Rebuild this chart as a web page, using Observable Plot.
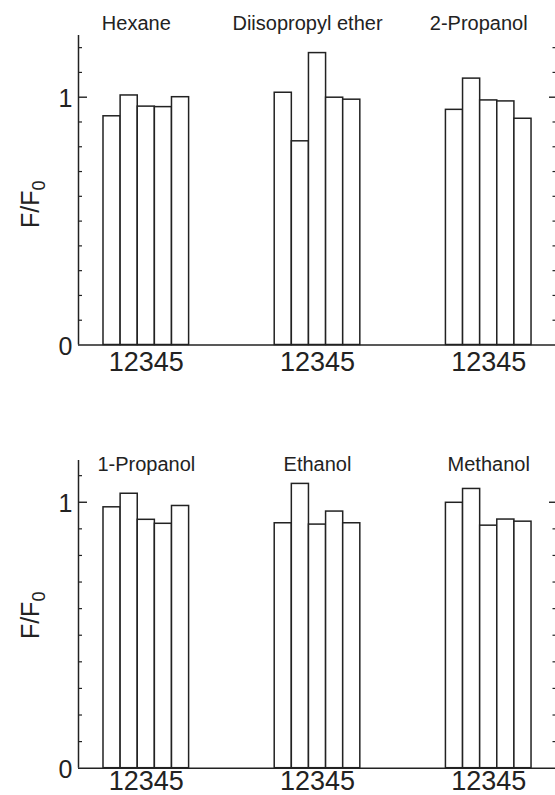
<!DOCTYPE html>
<html><head><meta charset="utf-8">
<script src="https://cdn.jsdelivr.net/npm/d3@7"></script>
<script src="https://cdn.jsdelivr.net/npm/@observablehq/plot@0.6"></script>
<style>body{margin:0;background:#fff} svg{display:block}</style>
</head><body><div id="chart"></div>
<script>
// ---- data ----
const barLabels = ["1", "2", "3", "4", "5"];
const topSolvents = ["Hexane", "Diisopropyl ether", "2-Propanol"];
const hexane = [0.923, 1.007, 0.962, 0.960, 1.000];
const diisopropylEther = [1.018, 0.822, 1.178, 0.998, 0.990];
const propanol2 = [0.949, 1.075, 0.987, 0.983, 0.913];
const bottomSolvents = ["1-Propanol", "Ethanol", "Methanol"];
const propanol1 = [0.981, 1.032, 0.934, 0.919, 0.986];
const ethanol = [0.921, 1.069, 0.916, 0.965, 0.921];
const methanol = [0.998, 1.050, 0.912, 0.935, 0.927];
const yTickValues = [0, 1];
const yMinorTop = [0.1, 0.2, 0.3, 0.4, 0.5, 0.6, 0.7, 0.8, 0.9, 1.1, 1.2];
const yMinorBottom = [0.1, 0.2, 0.3, 0.4, 0.5, 0.6, 0.7, 0.8, 0.9, 1.1];
const yRightTop = [0.1, 0.2, 0.3, 0.4, 0.5, 0.6, 0.7, 0.8, 0.9, 1.1, 1.2];
const yRightBottom = [0.1, 0.2, 0.3, 0.4, 0.5, 0.6, 0.7, 0.8, 0.9];
const yLabel = "F/F0";

const ink = "#222";

function panel({solvents, values, height, marginTop, marginBottom, yMax, minor, right, titleDx, titleDy, labelDy, yLabelDy}) {
  const rows = solvents.flatMap((s, g) => values[g].map((v, i) => ({solvent: s, group: g, bar: i, value: v})));
  const width = 555, marginLeft = 78, marginRight = 0;
  const frameW = width - marginLeft - marginRight;
  const groupStep = 10;
  const xDomain = [-1.46, 26.4];
  const svg = Plot.plot({
    width, height, marginLeft, marginRight, marginTop, marginBottom,
    x: {domain: xDomain, axis: null},
    y: {domain: [0, yMax], axis: null},
    style: {fontFamily: "'Liberation Sans', Arial, sans-serif", color: ink, background: "#fff", overflow: "visible"},
    marks: [
      Plot.rectY(rows, {
        x1: d => d.group * groupStep + d.bar,
        x2: d => d.group * groupStep + d.bar + 1,
        y1: 0, y2: "value",
        fill: "white", stroke: ink, strokeWidth: 1.5
      }),
      Plot.ruleY([0], {stroke: ink, strokeWidth: 1.5}),
      Plot.ruleX([xDomain[0]], {stroke: ink, strokeWidth: 1.5}),
      Plot.tickY(minor, {y: d => d, stroke: ink, strokeWidth: 1.2, insetRight: frameW - 4}),
      Plot.tickY([1], {y: d => d, stroke: ink, strokeWidth: 1.4, insetRight: frameW - 9}),
      Plot.tickY(right, {y: d => d, stroke: ink, strokeWidth: 1.2, insetLeft: frameW - 2.5}),
      Plot.tickY([1], {y: d => d, stroke: ink, strokeWidth: 1.4, insetLeft: frameW - 6}),
      Plot.axisY(yTickValues, {anchor: "left", label: null, tickSize: 0, tickPadding: 6, fontSize: 25, dy: 2, tickFormat: d => String(d)}),
      Plot.text(solvents, {
        x: (d, g) => g * groupStep + 2.5,
        text: () => barLabels.join(""),
        frameAnchor: "bottom", dy: labelDy, fontSize: 27, lineAnchor: "middle", fill: ink
      }),
      Plot.text(solvents, {
        x: (d, g) => g * groupStep + 2.5,
        text: d => d,
        frameAnchor: "top", dx: titleDx, dy: titleDy, fontSize: 20, lineAnchor: "middle", fill: ink
      }),
      Plot.text([yLabel], {
        text: d => d, frameAnchor: "left", textAnchor: "middle", rotate: -90, dx: -48, dy: yLabelDy,
        fontSize: 25, lineAnchor: "middle", fill: ink
      })
    ]
  });
  d3.select(svg).selectAll("text").filter(function() { return this.textContent === yLabel; })
    .each(function() {
      const t = d3.select(this);
      t.text(null);
      t.append("tspan").text("F/F");
      t.append("tspan").attr("font-size", 18).attr("dy", "0.35em").text("0");
    });
  return svg;
}

const chartEl = document.getElementById("chart");
const topPanel = panel({
  solvents: topSolvents, values: [hexane, diisopropylEther, propanol2],
  height: 395, marginTop: 35, marginBottom: 50.5, yMax: 1.249,
  minor: yMinorTop, right: yRightTop, titleDx: -10, titleDy: -12, labelDy: 17.5, yLabelDy: 14
});
const bottomPanel = panel({
  solvents: bottomSolvents, values: [propanol1, ethanol, methanol],
  height: 400, marginTop: 65, marginBottom: 27.3, yMax: 1.157,
  minor: yMinorBottom, right: yRightBottom, titleDx: 0, titleDy: 4, labelDy: 13, yLabelDy: 1
});
chartEl.append(topPanel, bottomPanel);
</script>
</body></html>
